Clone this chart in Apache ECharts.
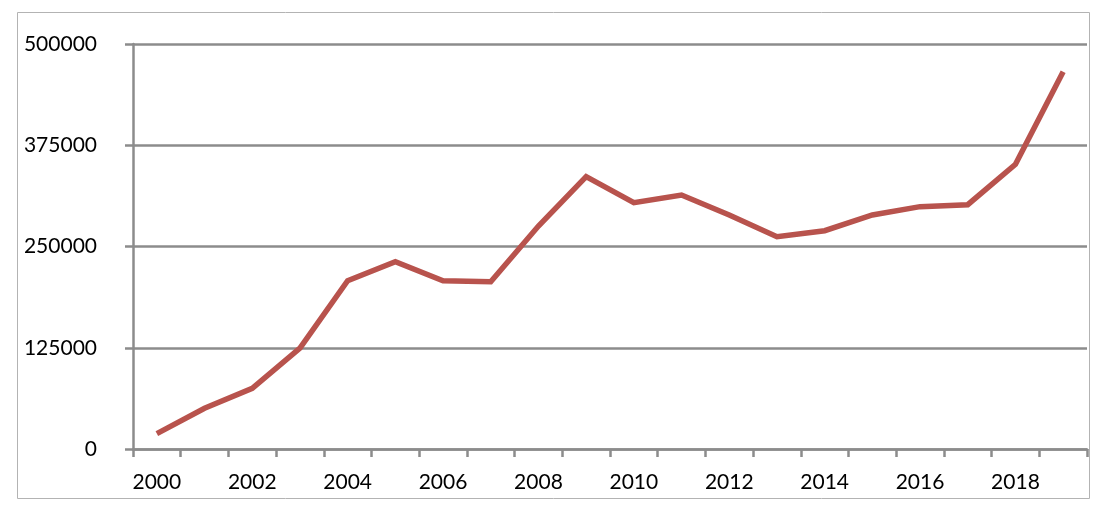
<!DOCTYPE html>
<html>
<head>
<meta charset="utf-8">
<script src="https://cdn.jsdelivr.net/npm/echarts@6/dist/echarts.min.js"></script>
<style>
    html, body {margin: 0; padding: 0; background: #fff;}
    #chart {width: 1112px; height: 518px;}
</style>
</head>
<body>
<div id="chart"></div>
<script>
// 年份
var years = ['2000','2001','2002','2003','2004','2005','2006','2007','2008','2009',
             '2010','2011','2012','2013','2014','2015','2016','2017','2018','2019'];
// 数值
var values = [19000, 50200, 74900, 124500, 207800, 231300, 207800, 206500, 275300, 336200,
              304100, 313600, 288900, 262100, 269500, 288900, 299200, 301600, 351400, 465800];
// 纵轴刻度
var yMin = 0, yMax = 500000, yStep = 125000;

var gray = '#8c8c8c';

function lineChart(elem) {
    var myChart = echarts.init(document.getElementById(elem));
    var option = {
        animation: false,
        textStyle: {fontFamily: 'Lato'},
        graphic: [
            {
                type: 'rect',
                shape: {x: 17.5, y: 12.5, width: 1072, height: 486},
                style: {fill: 'none', stroke: '#b3b3b3', lineWidth: 1},
                silent: true
            }
        ],
        grid: {
            left: 133,
            right: 25,
            top: 44,
            bottom: 69
        },
        xAxis: {
            type: 'category',
            data: years,
            boundaryGap: true,
            axisLine: {lineStyle: {color: gray, width: 2.5}},
            axisTick: {show: true, interval: 0, length: 8, lineStyle: {color: gray, width: 2.5}},
            axisLabel: {
                interval: 1,
                color: '#000',
                fontSize: 21,
                margin: 23
            },
            splitLine: {show: false}
        },
        yAxis: {
            type: 'value',
            min: yMin,
            max: yMax,
            interval: yStep,
            axisLine: {show: true, lineStyle: {color: gray, width: 2.5}},
            axisTick: {show: true, length: 8, lineStyle: {color: gray, width: 2.5}},
            axisLabel: {
                color: '#000',
                fontSize: 21,
                margin: 36,
                formatter: function (v) {
                    return String(v);
                }
            },
            splitLine: {show: true, lineStyle: {color: gray, width: 2.5}}
        },
        series: [
            {
                type: 'line',
                data: values,
                symbol: 'none',
                lineStyle: {color: '#b8534d', width: 5.5, join: 'miter'},
                itemStyle: {color: '#b8534d'}
            }
        ]
    };
    myChart.setOption(option);
}

lineChart('chart');
</script>
</body>
</html>
